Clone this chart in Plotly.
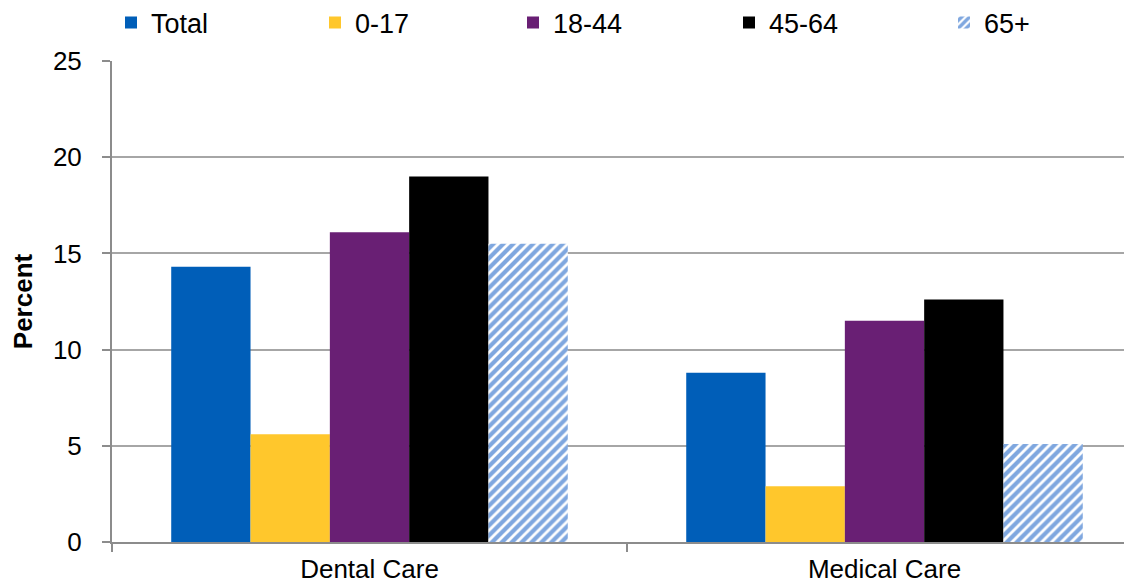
import plotly.graph_objects as go

categories = ["Dental Care", "Medical Care"]
series_names = ["Total", "0-17", "18-44", "45-64", "65+"]
total = [14.3, 8.8]
age_0_17 = [5.6, 2.9]
age_18_44 = [16.1, 11.5]
age_45_64 = [19.0, 12.6]
age_65_plus = [15.5, 5.1]
y_ticks = [0, 5, 10, 15, 20, 25]

values = [total, age_0_17, age_18_44, age_45_64, age_65_plus]
colors = ["#005EB8", "#FFC72C", "#691F74", "#000000", "#004FC0"]
legend_text_px = [148, 352, 550, 766, 981]  # text start in screen pixels

OFF = 8  # page body margin offset
W, H = 1132 - OFF, 585 - OFF
ml, mr, mt, mb = 112 - OFF, 0, 61 - OFF, 43
pw = W - ml - mr
ph = H - mt - mb
FS = 26

fig = go.Figure()
for i, (name, vals, col) in enumerate(zip(series_names, values, colors)):
    lg = "legend" if i == 0 else f"legend{i+1}"
    if name == "65+":
        marker = dict(color="white", line=dict(width=0),
                      pattern=dict(shape="/", fgcolor=col, bgcolor="white",
                                   size=7, solidity=0.6, fillmode="overlay"))
    else:
        marker = dict(color=col, line=dict(width=0))
    fig.add_trace(go.Bar(x=categories, y=vals, name=name, marker=marker,
                         legend=lg, hoverinfo="x+y+name"))

leg_common = dict(orientation="h", yanchor="middle", y=1 + (mt - (23 - OFF)) / ph,
                  xanchor="left", font=dict(family="Arial", size=27, color="#000000"),
                  bgcolor="rgba(0,0,0,0)", borderwidth=0, itemwidth=30,
                  tracegroupgap=0)
layout_legends = {}
for i, px in enumerate(legend_text_px):
    key = "legend" if i == 0 else f"legend{i+1}"
    layout_legends[key] = dict(leg_common, x=(px - 37 - OFF - ml) / pw)

fig.update_layout(
    width=W, height=H,
    margin=dict(l=ml, r=mr, t=mt, b=mb, pad=0, autoexpand=False),
    paper_bgcolor="white", plot_bgcolor="white",
    barmode="group", bargap=0.23, bargroupgap=0,
    font=dict(family="Arial", size=FS, color="#000000"),
    showlegend=True,
    **layout_legends,
)
fig.update_xaxes(
    type="category", range=[-0.5, 1.5 - 10 / 515],
    showline=True, linecolor="#8C8C8C", linewidth=2,
    ticks="outside", tickson="boundaries", ticklen=8, tickwidth=2, tickcolor="#8C8C8C",
    showgrid=False, tickfont=dict(family="Arial", size=FS, color="#000000"),
    ticklabelstandoff=3,
    fixedrange=True, automargin=False,
)
fig.update_yaxes(
    range=[0, 25], tickvals=y_ticks,
    showline=True, linecolor="#8C8C8C", linewidth=2,
    ticks="outside", ticklen=8, tickwidth=2, tickcolor="#8C8C8C",
    showgrid=True, gridcolor="#A6A6A6", gridwidth=2,
    zeroline=False,
    tickfont=dict(family="Arial", size=FS, color="#000000"),
    ticklabelstandoff=15,
    title=dict(text="<b>Percent</b>", font=dict(family="Arial", size=FS, color="#000000"), standoff=14),
    fixedrange=True, automargin=False,
)

fig.write_html("out.html")
